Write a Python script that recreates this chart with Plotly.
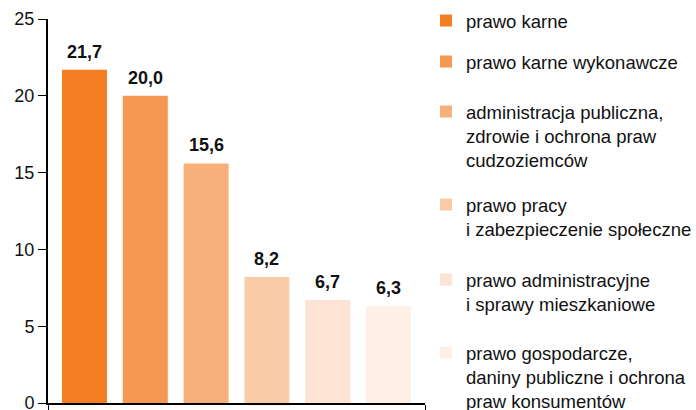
import plotly.graph_objects as go

# data
categories = [
    "prawo karne",
    "prawo karne wykonawcze",
    "administracja publiczna,<br>zdrowie i ochrona praw<br>cudzoziemców",
    "prawo pracy<br>i zabezpieczenie społeczne",
    "prawo administracyjne<br>i sprawy mieszkaniowe",
    "prawo gospodarcze,<br>daniny publiczne i ochrona<br>praw konsumentów",
]
values = [21.7, 20.0, 15.6, 8.2, 6.7, 6.3]
colors = ["#F37D22", "#F59852", "#F8B07A", "#F9CBA7", "#FCE3D3", "#FEF0E6"]
y_ticks = [0, 5, 10, 15, 20, 25]

FONT = "Arial, Liberation Sans, sans-serif"
W, H = 696, 410

# pixel y of the top of each legend entry (one legend per item to place them freely)
legend_top_px = [2, 43, 93, 186, 261, 334]

fig = go.Figure()
for i, (cat, val, col) in enumerate(zip(categories, values, colors)):
    lg = "legend" if i == 0 else f"legend{i+1}"
    fig.add_trace(go.Bar(
        x=[i], y=[val], name=cat, marker_color=col, marker_line_width=0,
        width=0.74, legend=lg, showlegend=True,
    ))
    fig.add_annotation(
        x=i, y=val, text=f"{val:.1f}".replace(".", ","), showarrow=False,
        yanchor="bottom", yshift=6,
        font=dict(family=FONT, size=18, color="#111111", weight="bold"),
    )

layout_legends = {}
for i, top in enumerate(legend_top_px):
    key = "legend" if i == 0 else f"legend{i+1}"
    layout_legends[key] = dict(
        xref="container", yref="container",
        x=426 / W, xanchor="left",
        y=1 - top / H, yanchor="top",
        font=dict(family=FONT, size=18.5, color="#111111"),
        valign="top", bgcolor="rgba(0,0,0,0)", borderwidth=0,
    )

fig.update_layout(
    width=W, height=H,
    margin=dict(l=48, r=271, t=19, b=7, autoexpand=False),
    plot_bgcolor="white", paper_bgcolor="white",
    barmode="overlay", showlegend=True,
    font=dict(family=FONT, size=18, color="#111111"),
    **layout_legends,
)
fig.update_xaxes(
    range=[-0.6, len(values) - 0.4], showticklabels=False,
    showline=True, linecolor="black", linewidth=2, showgrid=False,
    zeroline=False, tickmode="array", tickvals=[-0.6, len(values) - 0.4],
    ticks="outside", ticklen=6, tickcolor="black", tickwidth=1,
)
fig.update_yaxes(
    range=[0, 25], tickvals=y_ticks, showline=True, linecolor="black",
    linewidth=2, ticks="outside", ticklen=8, tickcolor="black", tickwidth=1,
    showgrid=False, zeroline=False, ticklabeloverflow="allow",
    tickfont=dict(family=FONT, size=18, color="#111111"),
)

# page body has a default 8px margin; drop it so the figure sits at the window corner
fig.write_html("out.html", config={"displayModeBar": False},
               post_script="document.body.style.margin='0';")
